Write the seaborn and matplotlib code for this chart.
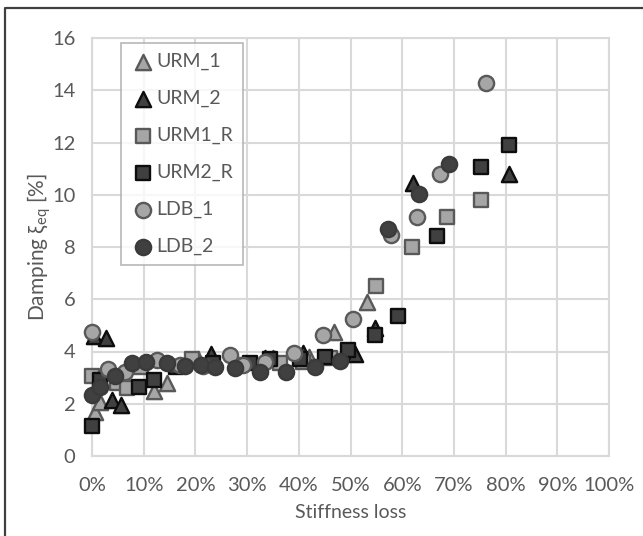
import matplotlib
matplotlib.use("Agg")
import matplotlib.pyplot as plt
from matplotlib.lines import Line2D
import numpy as np
import pandas as pd
import seaborn as sns

# Stiffness loss [%] and equivalent damping [%] per specimen
urm_1_x = [0.5, 1.5, 12.0, 14.6, 20.5, 35.0, 42.0, 46.8, 53.1]
urm_1_y = [1.70, 2.05, 2.50, 2.80, 3.70, 3.75, 3.80, 4.75, 5.90]

urm_2_x = [0.3, 2.8, 3.8, 5.6, 23.1, 33.5, 40.9, 50.9, 54.7, 62.0, 80.7]
urm_2_y = [4.60, 4.50, 2.15, 1.95, 3.90, 3.75, 3.95, 3.90, 4.90, 10.45, 10.80]

urm1_r_x = [0.0, 4.8, 6.7, 9.5, 19.3, 28.0, 36.4, 40.9, 46.0, 54.9, 61.8, 68.6, 75.2]
urm1_r_y = [3.05, 2.80, 2.60, 3.40, 3.70, 3.50, 3.55, 3.60, 3.75, 6.50, 8.00, 9.15, 9.80]

urm2_r_x = [0.0, 1.5, 9.0, 12.0, 16.2, 23.5, 30.6, 34.4, 40.2, 45.1, 49.6, 54.7, 59.2, 66.8, 75.2, 80.7]
urm2_r_y = [1.15, 2.90, 2.65, 2.90, 3.40, 3.55, 3.55, 3.70, 3.70, 3.80, 4.05, 4.65, 5.35, 8.43, 11.07, 11.91]

ldb_1_x = [0.0, 3.0, 6.4, 12.5, 17.0, 21.5, 26.6, 29.2, 33.5, 39.0, 44.7, 50.5, 57.8, 62.9, 67.4, 76.3]
ldb_1_y = [4.75, 3.33, 3.20, 3.68, 3.50, 3.45, 3.88, 3.50, 3.60, 3.95, 4.65, 5.25, 8.47, 9.16, 10.79, 14.26]

ldb_2_x = [0.0, 1.5, 4.4, 7.7, 10.5, 14.5, 18.0, 21.0, 23.8, 27.7, 32.5, 37.6, 43.1, 48.0, 57.3, 63.3, 69.1]
ldb_2_y = [2.35, 2.65, 3.05, 3.55, 3.60, 3.55, 3.45, 3.50, 3.40, 3.35, 3.20, 3.20, 3.40, 3.65, 8.69, 10.03, 11.17]

series_names = ["URM_1", "URM_2", "URM1_R", "URM2_R", "LDB_1", "LDB_2"]
x_ticks = [0, 10, 20, 30, 40, 50, 60, 70, 80, 90, 100]
y_ticks = [0, 2, 4, 6, 8, 10, 12, 14, 16]

frames = []
for name, xs, ys in zip(series_names,
                        [urm_1_x, urm_2_x, urm1_r_x, urm2_r_x, ldb_1_x, ldb_2_x],
                        [urm_1_y, urm_2_y, urm1_r_y, urm2_r_y, ldb_1_y, ldb_2_y]):
    frames.append(pd.DataFrame({"loss": xs, "damping": ys, "series": name}))
df = pd.concat(frames, ignore_index=True)

sns.set_theme(style="white")
plt.rcParams["font.family"] = ["Lato", "DejaVu Sans"]
text_color = "#595959"
grid_color = "#d9d9d9"

styles = {
    "URM_1":  dict(marker="^", fc="#a6a6a6", ec="#595959", s=120),
    "URM_2":  dict(marker="^", fc="#404040", ec="#0d0d0d", s=120),
    "URM1_R": dict(marker="s", fc="#a6a6a6", ec="#595959", s=105),
    "URM2_R": dict(marker="s", fc="#404040", ec="#0d0d0d", s=105),
    "LDB_1":  dict(marker="o", fc="#a6a6a6", ec="#595959", s=120),
    "LDB_2":  dict(marker="o", fc="#404040", ec="#3a3a3a", s=120),
}

fig = plt.figure(figsize=(6.43, 5.36), dpi=100)
ax = fig.add_axes([92 / 643, 1 - 456 / 536, 517 / 643, 418 / 536])

for name in series_names:
    st = styles[name]
    sns.scatterplot(data=df[df["series"] == name], x="loss", y="damping", ax=ax,
                    marker=st["marker"], color=st["fc"], edgecolor=st["ec"],
                    linewidth=1.7, s=st["s"], label=name, zorder=3, clip_on=False)

ax.set_xlim(0, 100)
ax.set_ylim(0, 16)
ax.set_xticks(x_ticks)
ax.set_xticklabels([f"{t}%" for t in x_ticks])
ax.set_yticks(y_ticks)
ax.set_yticklabels([str(t) for t in y_ticks])
ax.tick_params(axis="x", length=0, pad=15, labelsize=14.5, labelcolor=text_color)
ax.tick_params(axis="y", length=0, pad=12, labelsize=14.5, labelcolor=text_color)
ax.grid(True, color=grid_color, linewidth=1.5)
ax.set_axisbelow(True)
for sp in ax.spines.values():
    sp.set_color(grid_color)
    sp.set_linewidth(1.5)

ax.set_xlabel("Stiffness loss", fontsize=14, color=text_color, labelpad=7)
ax.set_ylabel("Damping ξ$_\\mathregular{eq}$ [%]", fontsize=15, color=text_color, labelpad=-1)

leg = ax.legend(loc="upper left", bbox_to_anchor=(0.0555, 0.988), borderaxespad=0,
                frameon=True, fancybox=False, fontsize=14, labelspacing=1.02,
                handletextpad=0.05, handlelength=1.3, borderpad=0.5, labelcolor=text_color)
leg.get_frame().set_edgecolor("#a6a6a6")
leg.get_frame().set_linewidth(1.2)

# chart frame edges
fig.add_artist(Line2D([6 / 643, 1.0], [1 - 8 / 536, 1 - 8 / 536], color="#404040", lw=1.6))
fig.add_artist(Line2D([5 / 643, 5 / 643], [0.0, 1 - 8 / 536], color="#404040", lw=1.6))

fig.savefig("out.png", dpi=100, facecolor="white")
